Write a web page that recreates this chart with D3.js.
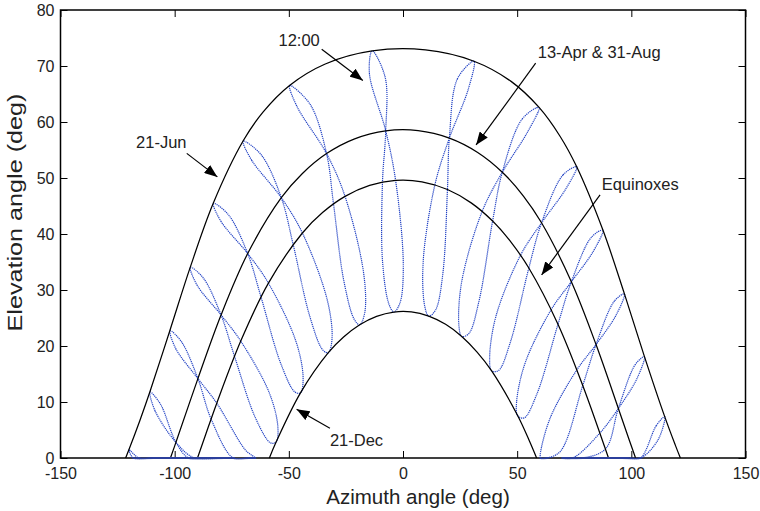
<!DOCTYPE html>
<html><head><meta charset="utf-8">
<script src="https://cdn.jsdelivr.net/npm/d3@7"></script>
<style>
html,body{margin:0;padding:0;background:#fff;}
svg{display:block;font-family:"Liberation Sans",Arial,Helvetica,sans-serif;}
</style></head><body>
<svg id="chart" width="760" height="511"></svg>
<script>
// ---------------- data ----------------
const xTicks = [-150, -100, -50, 0, 50, 100, 150];
const yTicks = [0, 10, 20, 30, 40, 50, 60, 70, 80];
const xLabel = "Azimuth angle (deg)";
const yLabel = "Elevation angle (deg)";

// analemma sample dates (loop order); 13-Apr and 31-Aug share the crossing point
const analemmaDates = ["21-Jun","26-Jul","31-Aug","23-Sep","3-Nov","1-Dec","21-Dec","10-Jan","11-Feb","21-Mar","13-Apr","14-May"];
const hourLabels = ["05:00","06:00","07:00","08:00","09:00","10:00","11:00","12:00","13:00","14:00","15:00","16:00","17:00","18:00","19:00"];

// [azimuth, elevation] per date, one array per clock hour (below-horizon points sit at 0)
const h05 = [[-120.01,1.50],[-118.10,0],[-109.34,0],[-101.28,0],[-87.78,0],[-82.59,0],[-82.75,0],[-85.40,0],[-93.46,0],[-103.87,0],[-109.34,0],[-115.64,0]];
const h06 = [[-110.84,11.82],[-108.61,8.45],[-99.44,2.80],[-91.36,0],[-78.40,0],[-73.72,0],[-73.99,0],[-76.45,0],[-83.81,0],[-93.80,0],[-99.44,2.80],[-106.19,9.60]];
const h07 = [[-102.09,22.77],[-99.53,19.53],[-89.82,14.18],[-81.56,9.79],[-68.88,1.37],[-64.64,0],[-65.12,0],[-67.49,0],[-74.39,0],[-84.04,6.96],[-89.82,14.18],[-97.05,20.78]];
const h08 = [[-93.16,34.08],[-90.24,30.90],[-79.69,25.54],[-71.06,20.88],[-58.54,11.61],[-54.82,5.63],[-55.57,2.85],[-57.97,2.70],[-64.52,7.06],[-73.79,18.16],[-79.69,25.54],[-87.53,32.18]];
const h09 = [[-83.10,45.49],[-79.74,42.27],[-68.02,36.51],[-58.94,31.23],[-46.78,20.70],[-43.75,14.30],[-44.89,11.63],[-47.33,11.78],[-53.52,16.86],[-62.18,28.74],[-68.02,36.51],[-76.54,43.49]];
const h10 = [[-70.05,56.60],[-66.30,53.19],[-53.30,46.48],[-44.06,40.18],[-33.06,28.04],[-31.09,21.25],[-32.71,18.80],[-35.18,19.32],[-40.78,25.24],[-48.11,38.13],[-53.30,46.48],[-62.16,54.18]];
const h11 = [[-49.68,66.53],[-46.41,62.75],[-33.48,54.36],[-25.39,46.72],[-17.21,32.91],[-16.77,25.90],[-18.95,23.79],[-21.35,24.75],[-25.86,31.53],[-30.44,45.38],[-33.48,54.36],[-40.67,63.15]];
const h12 = [[-13.50,72.69],[-14.71,68.68],[-7.56,58.42],[-3.24,49.57],[0.12,34.61],[-1.31,27.70],[-3.98,26.07],[-6.15,27.47],[-8.94,34.96],[-8.98,49.27],[-7.56,58.42],[-7.80,67.95]];
const h13 = [[31.08,70.85],[23.85,67.73],[20.31,57.13],[19.47,47.94],[17.43,32.86],[14.25,26.41],[11.27,25.34],[9.51,27.13],[8.82,34.97],[13.96,48.77],[20.31,57.13],[28.57,65.83]];
const h14 = [[59.60,62.60],[52.28,60.58],[43.50,51.04],[39.24,42.31],[33.25,27.96],[28.81,22.20],[25.74,21.71],[24.47,23.78],[25.75,31.56],[34.67,44.03],[43.50,51.04],[54.49,58.17]];
const h15 = [[76.08,52.00],[70.08,50.55],[60.67,42.00],[55.10,33.92],[46.95,20.59],[41.76,15.59],[38.76,15.60],[37.95,17.85],[40.69,25.29],[51.47,36.21],[60.67,42.00],[71.20,47.99]];
const h16 = [[87.55,40.70],[82.55,39.45],[73.73,31.47],[67.87,23.88],[58.69,11.48],[53.08,7.17],[50.19,7.59],[49.74,9.93],[53.45,16.92],[64.90,26.49],[73.73,31.47],[83.27,36.86]];
const h17 = [[96.98,29.30],[92.62,28.05],[84.54,20.26],[78.72,12.94],[69.01,1.23],[63.07,0],[60.27,0],[60.10,0.58],[64.45,7.13],[76.13,15.73],[84.54,20.26],[93.24,25.45]];
const h18 = [[105.75,18.11],[101.79,16.73],[94.32,8.85],[88.64,1.60],[78.53,0],[72.23,0],[69.42,0],[69.45,0],[74.33,0],[86.20,4.45],[94.32,8.85],[102.43,14.15]];
const h19 = [[114.62,7.39],[110.90,5.77],[103.98,0],[98.44,0],[87.91,0],[81.10,0],[78.17,0],[78.36,0],[83.75,0],[95.96,0],[103.98,0],[111.68,3.23]];

// daily sun paths [azimuth, elevation]
const dayJun21 = [[-121.48,0],[-120.01,1.50],[-115.35,6.56],[-110.84,11.82],[-102.09,22.77],[-93.16,34.08],[-83.10,45.49],[-70.05,56.60],[-61.23,61.81],[-49.68,66.53],[-34.04,70.36],[-13.50,72.69],[9.84,72.87],[31.08,70.85],[47.48,67.21],[59.60,62.60],[68.77,57.46],[76.08,52.00],[87.55,40.70],[96.98,29.30],[105.75,18.11],[114.62,7.39],[119.26,2.30],[121.48,0]];
const dayAprAug = [[-101.85,0],[-99.44,2.80],[-89.82,14.18],[-79.69,25.54],[-68.02,36.51],[-53.30,46.48],[-44.16,50.77],[-33.48,54.36],[-21.18,56.99],[-7.56,58.42],[6.62,58.46],[20.31,57.13],[32.71,54.57],[43.50,51.04],[52.74,46.78],[60.67,42.00],[73.73,31.47],[84.54,20.26],[94.32,8.85],[99.12,3.18],[101.85,0]];
const dayEquinox = [[-90,0],[-86.49,4.11],[-81.56,9.79],[-71.06,20.88],[-58.94,31.23],[-44.06,40.18],[-35.24,43.83],[-25.39,46.72],[-14.63,48.68],[-3.24,49.57],[8.30,49.32],[19.47,47.94],[29.85,45.56],[39.24,42.31],[47.63,38.38],[55.10,33.92],[67.87,23.88],[78.72,12.94],[88.64,1.60],[90,0]];
const dayDec21 = [[-58.52,0],[-55.57,2.85],[-44.89,11.63],[-32.71,18.80],[-26.02,21.60],[-18.95,23.79],[-11.57,25.30],[-3.98,26.07],[3.68,26.09],[11.27,25.34],[18.66,23.87],[25.74,21.71],[32.45,18.92],[38.76,15.60],[50.19,7.59],[55.37,3.04],[58.52,0]];

const annotationTexts = ["12:00", "21-Jun", "13-Apr & 31-Aug", "Equinoxes", "21-Dec"];

// ---------------- drawing ----------------
const W = 760, H = 511;
const svg = d3.select("#chart");
const x = d3.scaleLinear().domain([-150, 150]).range([60.5, 745.5]);
const y = d3.scaleLinear().domain([0, 80]).range([458, 10]);

svg.append("rect").attr("width", W).attr("height", H).attr("fill", "#fff");

const defs = svg.append("defs");
defs.append("clipPath").attr("id", "plotClip")
  .append("rect").attr("x", x(-150)).attr("y", y(80)).attr("width", x(150) - x(-150)).attr("height", y(0) - y(80) + 1.2);
defs.append("clipPath").attr("id", "groundClip")
  .append("rect").attr("x", x(-150)).attr("y", y(0) - 1.1).attr("width", x(150) - x(-150)).attr("height", 2.4);
defs.append("marker").attr("id", "arrowHead")
  .attr("viewBox", "0 0 13 10").attr("refX", 13).attr("refY", 5)
  .attr("markerWidth", 13).attr("markerHeight", 10)
  .attr("markerUnits", "userSpaceOnUse").attr("orient", "auto")
  .append("path").attr("d", "M0,0L13,5L0,10Z").attr("fill", "#000");

const tickLen = 7;
function styleAxis(g) {
  g.select(".domain").remove();
  g.selectAll(".tick line").attr("stroke", "#000").attr("stroke-width", 1);
  g.selectAll(".tick text").attr("fill", "#222").style("font-size", "16px")
    .style("font-family", '"Liberation Sans", Arial, sans-serif');
}
const fmt = d => String(d);
svg.append("g").attr("transform", `translate(0,${y(0)})`)
  .call(d3.axisBottom(x).tickValues(xTicks).tickSize(-tickLen).tickPadding(10).tickFormat(fmt))
  .call(styleAxis);
svg.append("g").attr("transform", `translate(0,${y(80)})`)
  .call(d3.axisTop(x).tickValues(xTicks).tickSize(-tickLen).tickFormat(""))
  .call(styleAxis);
svg.append("g").attr("transform", `translate(${x(-150)},0)`)
  .call(d3.axisLeft(y).tickValues(yTicks).tickSize(-tickLen).tickPadding(6).tickFormat(fmt))
  .call(styleAxis);
svg.append("g").attr("transform", `translate(${x(150)},0)`)
  .call(d3.axisRight(y).tickValues(yTicks).tickSize(-tickLen).tickFormat(""))
  .call(styleAxis);

svg.append("rect")
  .attr("x", x(-150)).attr("y", y(80)).attr("width", x(150) - x(-150)).attr("height", y(0) - y(80))
  .attr("fill", "none").attr("stroke", "#000").attr("stroke-width", 1.5);

// analemmas
const analemmas = [h05, h06, h07, h08, h09, h10, h11, h12, h13, h14, h15, h16, h17, h18, h19];
const loopLine = d3.line().x(d => x(d[0])).y(d => y(d[1])).curve(d3.curveCatmullRomClosed.alpha(0.5));
const plot = svg.append("g").attr("clip-path", "url(#plotClip)");
plot.selectAll("path.analemma").data(analemmas).join("path")
  .attr("class", "analemma")
  .attr("d", loopLine)
  .attr("fill", "none").attr("stroke", "#2242c4").attr("stroke-width", 1.2)
  .attr("stroke-dasharray", "1.2 0.8");
// the part of each analemma lying on the horizon (dense overlapping dots look solid)
svg.append("g").attr("clip-path", "url(#groundClip)")
  .selectAll("path").data(analemmas).join("path")
  .attr("d", loopLine)
  .attr("fill", "none").attr("stroke", "#2b3f9c").attr("stroke-width", 2);

// day curves
const dayLine = d3.line().x(d => x(d[0])).y(d => y(d[1])).curve(d3.curveCatmullRom.alpha(0.5));
plot.selectAll("path.day").data([dayJun21, dayAprAug, dayEquinox, dayDec21]).join("path")
  .attr("class", "day").attr("d", dayLine)
  .attr("fill", "none").attr("stroke", "#000").attr("stroke-width", 1.25);

// annotations (anchor positions in data units)
const annoG = svg.append("g").style("font-size", "16.5px").attr("fill", "#222");
function annotate(text, tx, ty, anchor, ax0, ay0, ax1, ay1) {
  annoG.append("text").attr("x", x(tx)).attr("y", y(ty)).attr("text-anchor", anchor).text(text);
  annoG.append("line").attr("x1", x(ax0)).attr("y1", y(ay0)).attr("x2", x(ax1)).attr("y2", y(ay1))
    .attr("stroke", "#000").attr("stroke-width", 1.2).attr("marker-end", "url(#arrowHead)");
}
annotate(annotationTexts[0], -45.5, 73.6, "middle", -35.6, 73.0, -17.6, 67.4);
annotate(annotationTexts[1], -116.9, 55.4, "start", -94.7, 54.4, -81.3, 50.2);
annotate(annotationTexts[2], 59.0, 71.4, "start", 58.1, 70.5, 32.0, 55.9);
annotate(annotationTexts[3], 87.0, 47.9, "start", 86.3, 47.0, 60.7, 32.7);
annotate(annotationTexts[4], -32.0, 2.1, "start", -32.0, 5.3, -46.6, 8.7);

// axis titles
svg.append("text").attr("x", 418).attr("y", 504).attr("text-anchor", "middle")
  .style("font-size", "20.5px").attr("fill", "#222").text(xLabel);
svg.append("text").attr("transform", "translate(21.5,212.5) rotate(-90)").attr("text-anchor", "middle")
  .style("font-size", "20px").attr("fill", "#222")
  .attr("textLength", 238).attr("lengthAdjust", "spacingAndGlyphs").text(yLabel);
</script>
</body></html>
